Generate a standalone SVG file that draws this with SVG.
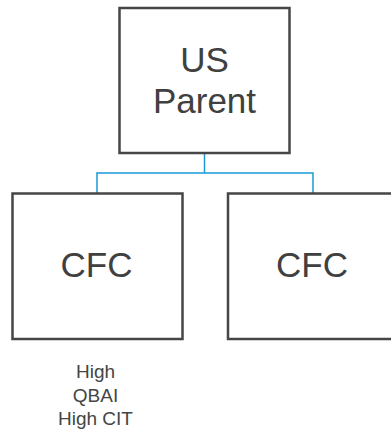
<svg xmlns="http://www.w3.org/2000/svg" width="391" height="431" viewBox="0 0 391 431">
  <style>
    .box { fill: #ffffff; stroke: #464646; stroke-width: 2.5; }
    .big { font-family: "Liberation Sans", Arial, sans-serif; font-size: 35px; fill: #404040; text-anchor: middle; }
    .note { font-family: "Liberation Sans", Arial, sans-serif; font-size: 19px; fill: #454545; text-anchor: middle; }
    .link { fill: none; stroke: #1b9ad6; stroke-width: 1.5; }
  </style>
  <rect width="391" height="431" fill="#ffffff"/>
  <g id="connectors">
    <path class="link" d="M204.5 153 V173 M97 193 V173 H313 V193"/>
  </g>
  <g id="us-parent">
    <rect class="box" x="119.5" y="8" width="170" height="145"/>
    <text class="big" x="204.5" y="72">US</text>
    <text class="big" x="204.5" y="113">Parent</text>
  </g>
  <g id="cfc-left">
    <rect class="box" x="12.5" y="193.5" width="170" height="145.5"/>
    <text class="big" x="96.5" y="277">CFC</text>
  </g>
  <g id="cfc-right">
    <rect class="box" x="228" y="193.5" width="170" height="145.5"/>
    <text class="big" x="312" y="277">CFC</text>
  </g>
  <g id="note">
    <text class="note" x="95.5" y="378">High</text>
    <text class="note" x="95.5" y="401.5">QBAI</text>
    <text class="note" x="95.5" y="425">High CIT</text>
  </g>
</svg>
